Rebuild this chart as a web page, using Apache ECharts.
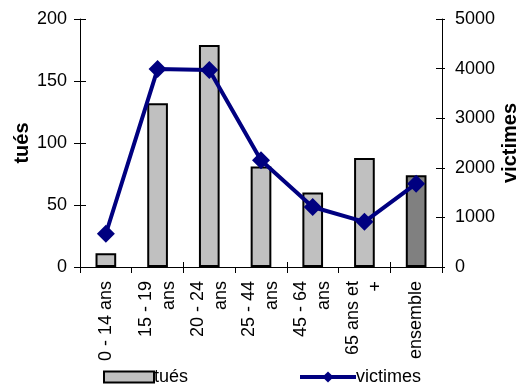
<!DOCTYPE html>
<html>
<head>
<meta charset="utf-8">
<script src="https://cdn.jsdelivr.net/npm/echarts@6/dist/echarts.min.js"></script>
<style>
  html, body { margin: 0; padding: 0; background: #ffffff; }
  #chart { width: 519px; height: 387px; }
</style>
</head>
<body>
<div id="chart"></div>
<script>
// Age groups (two-line labels under the axis)
const categories = ['0 - 14 ans', '15 - 19\nans', '20 - 24\nans', '25 - 44\nans', '45 - 64\nans', '65 ans et\n+', 'ensemble'];
// Killed (left axis)
const tues = [11, 132, 179, 81, 60, 88, 74];
// Victims (right axis)
const victimes = [670, 3990, 3970, 2150, 1210, 910, 1680];
const leftTicks = [0, 50, 100, 150, 200];
const rightTicks = [0, 1000, 2000, 3000, 4000, 5000];

const FONT = 'Liberation Sans, Arial, sans-serif';
const chart = echarts.init(document.getElementById('chart'), null, { renderer: 'canvas' });

const barData = tues.map((v, i) => i === tues.length - 1
  ? { value: v, itemStyle: { color: '#808080' } }
  : v);

const axisLineStyle = { color: '#000', width: 1 };
const labelStyle = { color: '#000', fontFamily: FONT, fontSize: 18 };
const titleStyle = { color: '#000', fontFamily: FONT, fontSize: 20, fontWeight: 'bold' };

const legendBase = {
  bottom: -4,
  itemWidth: 50,
  itemHeight: 11,
  itemGap: 0,
  textStyle: { color: '#000', fontFamily: FONT, fontSize: 18, padding: [0, 0, 0, -5] }
};

chart.setOption({
  animation: false,
  grid: { left: 80, right: 77, top: 19, bottom: 120, outerBoundsMode: 'none', containLabel: false },
  legend: [
    Object.assign({}, legendBase, {
      left: 98,
      data: [{ name: 'tués', icon: 'rect', itemStyle: { color: '#C0C0C0', borderColor: '#000', borderWidth: 2 } }]
    }),
    Object.assign({}, legendBase, {
      left: 293,
      itemWidth: 56,
      itemHeight: 14,
      lineStyle: { width: 4, color: '#000080' },
      data: [{ name: 'victimes' }]
    })
  ],
  xAxis: [{
    type: 'category',
    data: categories,
    boundaryGap: true,
    axisLine: { lineStyle: axisLineStyle },
    axisTick: { show: true, length: 6, lineStyle: axisLineStyle },
    axisLabel: {
      rotate: 90, interval: 0, margin: 14,
      color: '#000', fontFamily: FONT, fontSize: 18, lineHeight: 23,
      align: 'right'
    }
  }, {
    type: 'category',
    data: categories,
    position: 'bottom',
    boundaryGap: true,
    axisLine: { show: false },
    axisTick: { show: true, inside: true, length: 5, lineStyle: axisLineStyle },
    axisLabel: { show: false }
  }],
  yAxis: [{
    type: 'value',
    min: 0, max: 200, interval: 50,
    name: 'tués',
    nameLocation: 'middle',
    nameGap: 48,
    nameRotate: 90,
    nameMoveOverlap: false,
    nameTextStyle: titleStyle,
    axisLine: { show: true, lineStyle: axisLineStyle },
    axisTick: { show: true, length: 6, lineStyle: axisLineStyle },
    axisLabel: Object.assign({ margin: 13 }, labelStyle),
    splitLine: { show: false }
  }, {
    type: 'value',
    min: 0, max: 5000, interval: 1000,
    position: 'right',
    name: 'victimes',
    nameLocation: 'middle',
    nameGap: 58,
    nameRotate: 90,
    nameMoveOverlap: false,
    nameTextStyle: titleStyle,
    axisLine: { show: true, lineStyle: axisLineStyle },
    axisTick: { show: true, length: 3, lineStyle: axisLineStyle },
    axisLabel: Object.assign({ margin: 13, formatter: v => String(v) }, labelStyle),
    splitLine: { show: false }
  }, {
    type: 'value', min: 0, max: 200, interval: 50, position: 'left',
    axisLine: { show: false },
    axisTick: { show: true, inside: true, length: 6, lineStyle: axisLineStyle },
    axisLabel: { show: false }, splitLine: { show: false }
  }, {
    type: 'value', min: 0, max: 5000, interval: 1000, position: 'right',
    axisLine: { show: false },
    axisTick: { show: true, inside: true, length: 6, lineStyle: axisLineStyle },
    axisLabel: { show: false }, splitLine: { show: false }
  }],
  series: [{
    name: 'tués',
    type: 'bar',
    yAxisIndex: 0,
    barWidth: '40%',
    itemStyle: { color: '#C0C0C0', borderColor: '#000', borderWidth: 2 },
    data: barData
  }, {
    name: 'victimes',
    type: 'line',
    yAxisIndex: 1,
    symbol: 'diamond',
    symbolSize: 18,
    lineStyle: { color: '#000080', width: 4 },
    itemStyle: { color: '#000080' },
    data: victimes
  }]
});
</script>
</body>
</html>
